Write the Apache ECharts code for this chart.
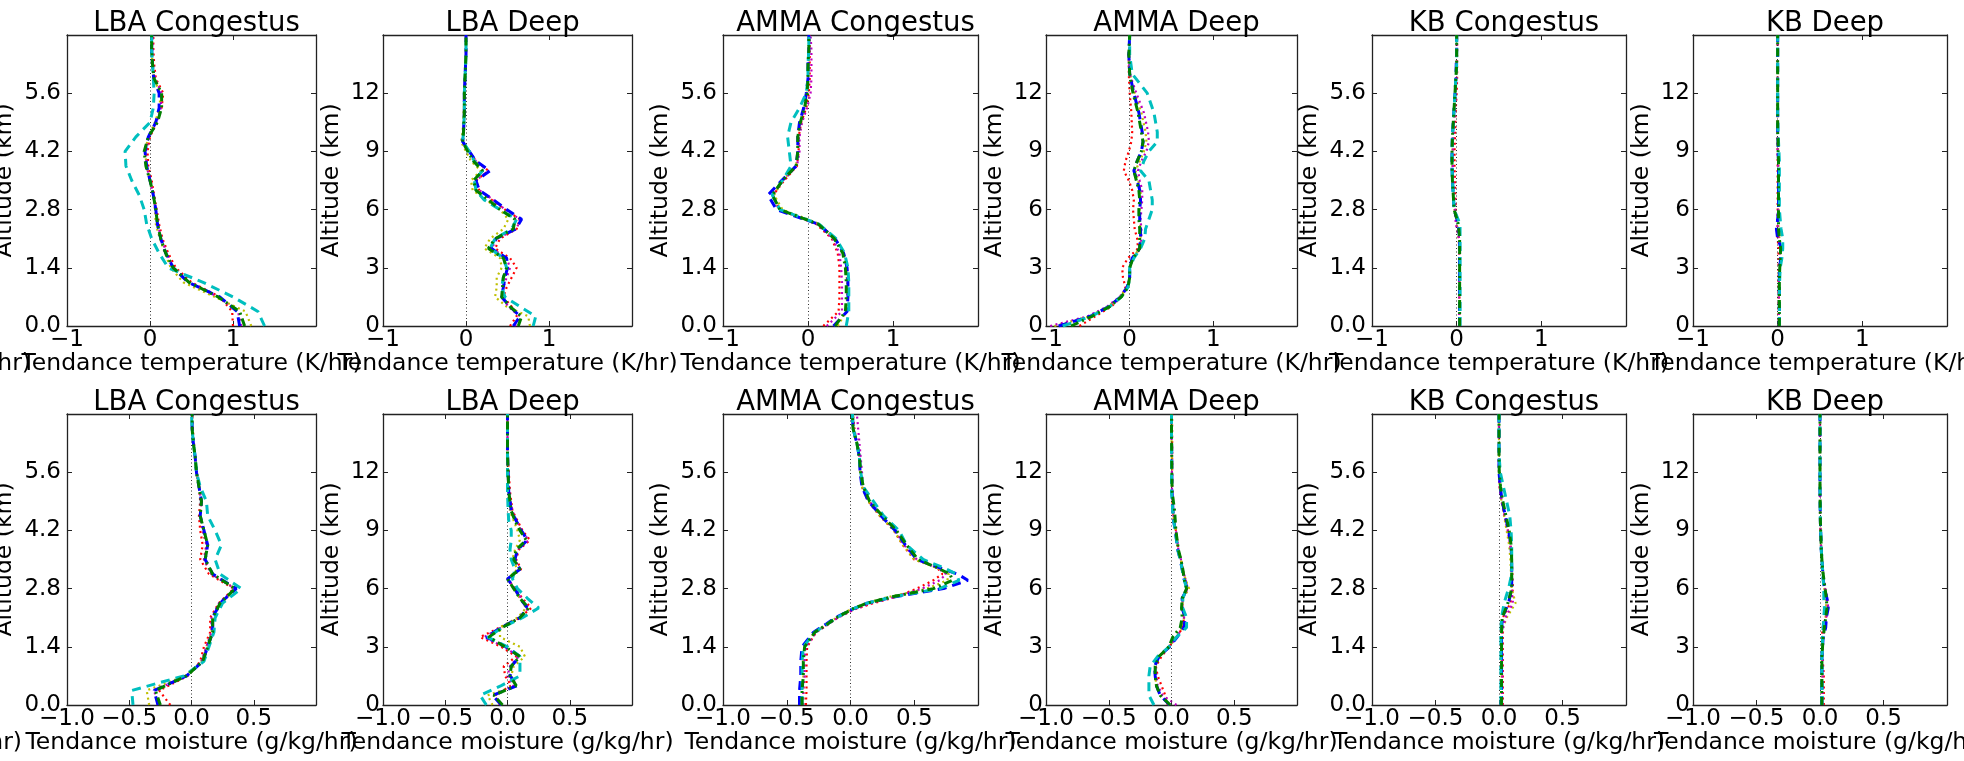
<!DOCTYPE html>
<html><head><meta charset="utf-8">
<script src="https://cdn.jsdelivr.net/npm/echarts@6/dist/echarts.min.js"></script>
<style>html,body{margin:0;padding:0;background:#fff}#c{width:1964px;height:761px}</style>
</head><body><div id="c"></div><script>
const FONT = 'DejaVu Sans';
const TITLES = ['LBA Congestus', 'LBA Deep', 'AMMA Congestus', 'AMMA Deep', 'KB Congestus', 'KB Deep'];
const X_NAME_T = 'Tendance temperature (K/hr)';
const X_NAME_Q = 'Tendance moisture (g/kg/hr)';
const Y_NAME = 'Altitude (km)';
const X_TICKS_T = [-1, 0, 1];
const X_TICKS_Q = [-1.0, -0.5, 0.0, 0.5];
const Y_TICKS_CONG = [0.0, 1.4, 2.8, 4.2, 5.6];
const Y_TICKS_DEEP = [0, 3, 6, 9, 12];
const SERIES_KEYS = ['r', 'y', 'm', 'b', 'c', 'g'];

// altitudes (km)
const ALT_CONG = [0, 0.35, 0.7, 1.05, 1.4, 1.75, 2.1, 2.45, 2.8, 3.15, 3.5, 3.85, 4.2, 4.55, 4.9, 5.25, 5.6, 5.95, 6.3, 6.65, 7.0];
const ALT_DEEP = [0, 0.5, 1, 1.5, 2, 2.5, 3, 3.5, 4, 4.5, 5, 5.5, 6, 6.5, 7, 7.5, 8, 8.5, 9, 9.5, 10, 11, 12, 13, 14, 15];
const ALT_AMMA_CONG_Q = [0, 0.35, 0.7, 1.05, 1.4, 1.75, 1.95, 2.1, 2.3, 2.45, 2.6, 2.8, 3.0, 3.15, 3.3, 3.5, 3.85, 4.2, 4.55, 4.9, 5.25, 5.6, 5.95, 6.3, 6.65, 7.0];

// series order in each panel: r, y, m, b, c, g
const T_LBA_CONG = [
  [1.0, 0.99, 0.84, 0.5, 0.31, 0.22, 0.15, 0.11, 0.08, 0.05, 0.02, -0.02, -0.03, 0.0, 0.08, 0.14, 0.16, 0.07, 0.05, 0.04, 0.04],
  [1.22, 1.15, 0.78, 0.4, 0.25, 0.18, 0.12, 0.07, 0.06, 0.04, 0.0, -0.04, -0.06, -0.02, 0.06, 0.12, 0.12, 0.05, 0.03, 0.02, 0.02],
  [1.1, 1.06, 0.82, 0.47, 0.28, 0.2, 0.14, 0.09, 0.07, 0.04, 0.0, -0.04, -0.05, -0.01, 0.08, 0.13, 0.14, 0.06, 0.03, 0.03, 0.03],
  [1.08, 1.05, 0.84, 0.46, 0.28, 0.19, 0.13, 0.09, 0.07, 0.04, 0.0, -0.04, -0.06, -0.02, 0.07, 0.11, 0.11, 0.045, 0.03, 0.02, 0.02],
  [1.38, 1.3, 1.0, 0.64, 0.22, 0.11, 0.02, -0.04, -0.07, -0.13, -0.22, -0.29, -0.3, -0.17, 0.0, 0.04, 0.05, 0.04, 0.03, 0.02, 0.02],
  [1.14, 1.08, 0.82, 0.47, 0.28, 0.19, 0.13, 0.09, 0.07, 0.04, 0.0, -0.05, -0.07, -0.02, 0.09, 0.14, 0.14, 0.05, 0.03, 0.02, 0.02]
];
const T_LBA_DEEP = [
  [0.53, 0.61, 0.55, 0.45, 0.49, 0.55, 0.61, 0.53, 0.35, 0.41, 0.61, 0.65, 0.47, 0.31, 0.16, 0.12, 0.27, 0.12, 0.04, -0.04, -0.03, -0.02, -0.02, -0.01, 0.0, 0.0],
  [0.77, 0.75, 0.49, 0.35, 0.37, 0.37, 0.43, 0.41, 0.22, 0.29, 0.45, 0.51, 0.41, 0.24, 0.08, 0.06, 0.18, 0.06, 0.0, -0.06, -0.04, -0.03, -0.02, -0.01, 0.0, 0.0],
  [0.59, 0.65, 0.51, 0.43, 0.45, 0.49, 0.53, 0.49, 0.31, 0.37, 0.61, 0.65, 0.47, 0.33, 0.16, 0.12, 0.27, 0.12, 0.04, -0.04, -0.03, -0.02, -0.02, -0.01, 0.0, 0.0],
  [0.57, 0.65, 0.53, 0.43, 0.45, 0.47, 0.5, 0.49, 0.3, 0.36, 0.6, 0.67, 0.49, 0.33, 0.16, 0.12, 0.29, 0.12, 0.04, -0.04, -0.03, -0.02, -0.02, -0.01, 0.0, 0.0],
  [0.81, 0.84, 0.65, 0.47, 0.43, 0.45, 0.49, 0.45, 0.29, 0.35, 0.55, 0.61, 0.41, 0.22, 0.12, 0.1, 0.2, 0.1, 0.04, -0.04, -0.03, -0.02, -0.02, -0.01, 0.0, 0.0],
  [0.63, 0.67, 0.53, 0.43, 0.44, 0.45, 0.49, 0.45, 0.27, 0.35, 0.57, 0.59, 0.41, 0.27, 0.12, 0.09, 0.2, 0.09, 0.02, -0.04, -0.03, -0.02, -0.02, -0.01, 0.0, 0.0]
];
const T_AMMA_CONG = [
  [0.18, 0.36, 0.37, 0.37, 0.37, 0.35, 0.28, 0.1, -0.34, -0.41, -0.28, -0.13, -0.11, -0.11, -0.08, -0.02, 0.01, 0.02, 0.02, 0.02, 0.02],
  [0.35, 0.45, 0.46, 0.46, 0.45, 0.42, 0.32, 0.14, -0.3, -0.4, -0.3, -0.14, -0.12, -0.12, -0.09, -0.04, -0.01, 0.0, 0.01, 0.01, 0.01],
  [0.22, 0.4, 0.4, 0.4, 0.39, 0.37, 0.29, 0.11, -0.34, -0.42, -0.29, -0.13, -0.1, -0.1, -0.07, -0.01, 0.03, 0.04, 0.04, 0.04, 0.03],
  [0.3, 0.46, 0.47, 0.47, 0.46, 0.42, 0.32, 0.12, -0.37, -0.47, -0.31, -0.14, -0.12, -0.12, -0.1, -0.05, -0.02, 0.0, 0.0, 0.01, 0.01],
  [0.45, 0.48, 0.48, 0.48, 0.47, 0.43, 0.33, 0.13, -0.33, -0.42, -0.3, -0.2, -0.22, -0.24, -0.2, -0.1, -0.02, 0.0, 0.0, 0.01, 0.01],
  [0.32, 0.44, 0.45, 0.45, 0.44, 0.41, 0.31, 0.12, -0.33, -0.42, -0.3, -0.14, -0.12, -0.12, -0.09, -0.04, -0.01, 0.0, 0.0, 0.01, 0.01]
];
const T_AMMA_DEEP = [
  [-0.6, -0.41, -0.22, -0.1, -0.05, -0.08, -0.09, -0.02, 0.1, 0.09, 0.06, 0.05, 0.04, 0.05, 0.03, -0.01, -0.07, -0.05, -0.01, 0.02, 0.03, 0.02, 0.0, -0.01, -0.01, 0.0],
  [-0.9, -0.48, -0.26, -0.11, -0.03, 0.0, 0.0, 0.03, 0.12, 0.13, 0.13, 0.12, 0.12, 0.13, 0.13, 0.1, 0.07, 0.12, 0.17, 0.2, 0.19, 0.14, 0.06, 0.0, -0.01, 0.0],
  [-0.95, -0.5, -0.27, -0.12, -0.03, 0.0, 0.0, 0.04, 0.13, 0.14, 0.14, 0.13, 0.14, 0.15, 0.15, 0.12, 0.1, 0.14, 0.2, 0.23, 0.22, 0.17, 0.08, 0.0, -0.01, 0.0],
  [-0.85, -0.47, -0.25, -0.11, -0.03, 0.0, 0.0, 0.03, 0.12, 0.13, 0.13, 0.12, 0.12, 0.13, 0.12, 0.09, 0.05, 0.09, 0.14, 0.16, 0.15, 0.11, 0.05, 0.0, -0.01, 0.0],
  [-0.8, -0.46, -0.24, -0.1, -0.02, 0.0, 0.0, 0.05, 0.13, 0.18, 0.19, 0.23, 0.27, 0.27, 0.25, 0.23, 0.13, 0.17, 0.23, 0.33, 0.33, 0.29, 0.21, 0.03, 0.0, 0.0],
  [-0.7, -0.45, -0.24, -0.1, -0.02, 0.0, 0.0, 0.04, 0.12, 0.12, 0.12, 0.11, 0.11, 0.12, 0.11, 0.08, 0.05, 0.09, 0.14, 0.16, 0.14, 0.1, 0.04, 0.0, -0.01, 0.0]
];
const T_KB_CONG = [
  [0.03, 0.03, 0.03, 0.03, 0.03, 0.03, 0.025, 0.0, -0.01, -0.015, -0.02, -0.025, -0.025, -0.02, -0.015, -0.01, 0.0, 0.005, 0.005, 0.005, 0.005],
  [0.03, 0.03, 0.03, 0.03, 0.03, 0.03, 0.03, 0.0, -0.025, -0.035, -0.045, -0.05, -0.05, -0.045, -0.035, -0.025, -0.015, -0.005, 0.0, 0.0, 0.0],
  [0.03, 0.03, 0.03, 0.03, 0.03, 0.03, 0.03, -0.01, -0.02, -0.03, -0.04, -0.045, -0.045, -0.04, -0.03, -0.02, -0.01, -0.005, 0.0, 0.0, 0.0],
  [0.035, 0.035, 0.035, 0.035, 0.035, 0.035, 0.035, 0.02, -0.03, -0.04, -0.05, -0.055, -0.055, -0.05, -0.04, -0.03, -0.02, -0.01, -0.005, 0.0, 0.0],
  [0.04, 0.04, 0.04, 0.04, 0.04, 0.04, 0.04, 0.04, -0.03, -0.04, -0.05, -0.055, -0.055, -0.05, -0.04, -0.03, -0.02, -0.01, 0.0, 0.0, 0.0],
  [0.035, 0.035, 0.035, 0.035, 0.035, 0.035, 0.035, 0.02, -0.03, -0.04, -0.05, -0.055, -0.055, -0.05, -0.04, -0.03, -0.02, -0.01, 0.0, 0.0, 0.0]
];
const T_KB_DEEP = [
  [0.01, 0.01, 0.01, 0.01, 0.01, 0.01, 0.01, 0.01, 0.01, 0.0, 0.0, 0.0, 0.0, 0.0, 0.0, 0.0, 0.0, 0.0, 0.0, 0.0, 0.0, 0.0, 0.0, 0.0, 0.0, 0.0],
  [0.015, 0.015, 0.015, 0.015, 0.015, 0.015, 0.02, 0.03, 0.035, 0.02, 0.01, 0.01, 0.01, 0.01, 0.01, 0.01, 0.01, 0.01, 0.005, 0.005, 0.0, 0.0, 0.0, 0.0, 0.0, 0.0],
  [0.015, 0.015, 0.015, 0.015, 0.015, 0.015, 0.02, 0.025, 0.03, 0.01, 0.0, 0.005, 0.005, 0.005, 0.005, 0.005, 0.005, 0.005, 0.0, 0.0, 0.0, 0.0, 0.0, 0.0, 0.0, 0.0],
  [0.02, 0.02, 0.02, 0.02, 0.02, 0.02, 0.025, 0.035, 0.045, 0.0, -0.015, 0.0, 0.01, 0.01, 0.01, 0.01, 0.01, 0.01, 0.005, 0.005, 0.0, 0.0, 0.0, 0.0, 0.0, 0.0],
  [0.02, 0.02, 0.02, 0.02, 0.02, 0.025, 0.03, 0.05, 0.06, 0.06, 0.04, 0.03, 0.02, 0.02, 0.02, 0.02, 0.02, 0.02, 0.015, 0.01, 0.005, 0.0, 0.0, 0.0, 0.0, 0.0],
  [0.02, 0.02, 0.02, 0.02, 0.02, 0.02, 0.025, 0.03, 0.035, 0.02, 0.01, 0.01, 0.01, 0.01, 0.01, 0.01, 0.01, 0.01, 0.005, 0.005, 0.0, 0.0, 0.0, 0.0, 0.0, 0.0]
];
const Q_LBA_CONG = [
  [-0.17, -0.26, -0.03, 0.07, 0.1, 0.15, 0.15, 0.22, 0.34, 0.14, 0.07, 0.09, 0.07, 0.06, 0.07, 0.06, 0.04, 0.03, 0.02, 0.01, 0.005],
  [-0.34, -0.36, -0.05, 0.08, 0.12, 0.16, 0.17, 0.24, 0.35, 0.16, 0.1, 0.12, 0.09, 0.07, 0.08, 0.06, 0.04, 0.03, 0.015, 0.005, 0.005],
  [-0.27, -0.3, -0.04, 0.08, 0.12, 0.16, 0.16, 0.22, 0.35, 0.16, 0.1, 0.12, 0.09, 0.07, 0.08, 0.06, 0.04, 0.03, 0.015, 0.005, 0.005],
  [-0.27, -0.3, -0.04, 0.09, 0.13, 0.17, 0.17, 0.23, 0.36, 0.17, 0.11, 0.13, 0.1, 0.07, 0.08, 0.06, 0.04, 0.03, 0.015, 0.005, 0.005],
  [-0.47, -0.48, -0.06, 0.1, 0.14, 0.18, 0.19, 0.25, 0.4, 0.23, 0.19, 0.24, 0.19, 0.13, 0.12, 0.07, 0.04, 0.03, 0.015, 0.005, 0.0],
  [-0.25, -0.29, -0.04, 0.09, 0.13, 0.17, 0.17, 0.23, 0.35, 0.17, 0.11, 0.13, 0.1, 0.07, 0.08, 0.06, 0.04, 0.03, 0.015, 0.005, 0.005]
];
const Q_LBA_DEEP = [
  [-0.06, -0.1, 0.03, -0.02, -0.03, 0.07, -0.05, -0.22, -0.06, 0.1, 0.19, 0.12, 0.06, 0.0, 0.11, 0.07, 0.09, 0.18, 0.12, 0.08, 0.04, 0.02, 0.01, 0.0, 0.0, 0.0],
  [-0.12, -0.16, 0.07, 0.03, 0.05, 0.14, 0.1, -0.06, -0.06, 0.08, 0.15, 0.1, 0.05, 0.0, 0.08, 0.04, 0.06, 0.1, 0.08, 0.05, 0.02, 0.01, 0.0, 0.0, 0.0, 0.0],
  [-0.05, -0.11, 0.05, 0.0, 0.02, 0.09, -0.03, -0.19, -0.05, 0.1, 0.17, 0.11, 0.06, 0.0, 0.1, 0.06, 0.08, 0.17, 0.11, 0.07, 0.04, 0.01, 0.005, 0.0, 0.0, 0.0],
  [-0.05, -0.12, 0.08, 0.02, 0.03, 0.1, -0.01, -0.17, -0.05, 0.1, 0.16, 0.1, 0.06, 0.0, 0.1, 0.06, 0.08, 0.16, 0.11, 0.07, 0.03, 0.01, 0.005, 0.0, 0.0, 0.0],
  [-0.17, -0.22, -0.05, 0.1, 0.1, 0.1, 0.0, -0.16, -0.04, 0.12, 0.25, 0.16, 0.08, 0.04, 0.06, 0.03, 0.02, 0.03, 0.03, 0.01, 0.005, 0.0, 0.0, 0.0, 0.0, 0.0],
  [-0.04, -0.11, 0.07, 0.02, 0.03, 0.1, -0.02, -0.15, -0.04, 0.1, 0.17, 0.1, 0.05, 0.0, 0.1, 0.05, 0.07, 0.15, 0.1, 0.06, 0.03, 0.01, 0.005, 0.0, 0.0, 0.0]
];
const Q_AMMA_CONG = [
  [-0.35, -0.345, -0.345, -0.345, -0.34, -0.27, -0.17, -0.1, 0.03, 0.18, 0.36, 0.52, 0.65, 0.72, 0.68, 0.5, 0.41, 0.34, 0.23, 0.14, 0.09, 0.08, 0.07, 0.05, 0.03, 0.02],
  [-0.37, -0.37, -0.37, -0.37, -0.36, -0.28, -0.18, -0.11, 0.0, 0.12, 0.3, 0.6, 0.76, 0.77, 0.68, 0.5, 0.41, 0.34, 0.23, 0.14, 0.09, 0.075, 0.07, 0.05, 0.02, 0.015],
  [-0.37, -0.37, -0.36, -0.36, -0.35, -0.27, -0.17, -0.1, 0.03, 0.16, 0.35, 0.56, 0.7, 0.75, 0.68, 0.52, 0.42, 0.35, 0.24, 0.15, 0.1, 0.09, 0.08, 0.07, 0.06, 0.05],
  [-0.4, -0.4, -0.39, -0.39, -0.38, -0.29, -0.19, -0.12, 0.01, 0.13, 0.34, 0.73, 0.92, 0.84, 0.7, 0.52, 0.43, 0.35, 0.24, 0.14, 0.09, 0.075, 0.07, 0.05, 0.02, 0.015],
  [-0.38, -0.38, -0.38, -0.38, -0.37, -0.28, -0.18, -0.11, 0.01, 0.13, 0.33, 0.7, 0.85, 0.83, 0.73, 0.57, 0.44, 0.38, 0.26, 0.18, 0.1, 0.08, 0.07, 0.05, 0.02, 0.015],
  [-0.38, -0.38, -0.37, -0.37, -0.36, -0.28, -0.18, -0.11, 0.01, 0.13, 0.32, 0.65, 0.8, 0.78, 0.68, 0.53, 0.44, 0.36, 0.25, 0.15, 0.1, 0.08, 0.07, 0.05, 0.02, 0.015]
];
const Q_AMMA_DEEP = [
  [-0.03, -0.05, -0.08, -0.11, -0.125, -0.08, -0.02, 0.04, 0.09, 0.1, 0.085, 0.09, 0.125, 0.11, 0.09, 0.075, 0.055, 0.045, 0.035, 0.02, 0.01, 0.005, 0.005, 0.005, 0.005, 0.005],
  [-0.02, -0.09, -0.12, -0.13, -0.13, -0.1, -0.02, 0.04, 0.09, 0.1, 0.085, 0.09, 0.14, 0.11, 0.09, 0.075, 0.055, 0.045, 0.035, 0.02, 0.012, 0.004, 0.003, 0.002, 0.0, 0.0],
  [0.04, -0.07, -0.11, -0.12, -0.13, -0.1, -0.02, 0.04, 0.09, 0.1, 0.085, 0.09, 0.13, 0.11, 0.09, 0.075, 0.055, 0.045, 0.035, 0.02, 0.012, 0.004, 0.003, 0.002, 0.0, 0.0],
  [-0.015, -0.09, -0.12, -0.13, -0.135, -0.1, -0.015, 0.045, 0.1, 0.11, 0.085, 0.085, 0.125, 0.1, 0.085, 0.07, 0.05, 0.04, 0.03, 0.017, 0.012, 0.004, 0.003, 0.002, 0.0, 0.0],
  [-0.14, -0.18, -0.18, -0.18, -0.17, -0.11, -0.02, 0.04, 0.12, 0.12, 0.09, 0.09, 0.12, 0.1, 0.085, 0.07, 0.05, 0.04, 0.03, 0.017, 0.01, 0.0, 0.0, 0.0, 0.0, 0.0],
  [-0.01, -0.09, -0.12, -0.13, -0.13, -0.1, -0.02, 0.01, 0.07, 0.085, 0.08, 0.085, 0.12, 0.1, 0.09, 0.075, 0.055, 0.045, 0.035, 0.03, 0.025, 0.005, 0.003, 0.002, 0.0, 0.0]
];
const Q_KB_CONG = [
  [0.03, 0.03, 0.03, 0.03, 0.03, 0.03, 0.03, 0.09, 0.11, 0.105, 0.1, 0.09, 0.07, 0.045, 0.02, 0.005, 0.0, 0.0, 0.0, 0.0, 0.0],
  [0.02, 0.02, 0.02, 0.02, 0.02, 0.02, 0.06, 0.13, 0.1, 0.095, 0.09, 0.08, 0.06, 0.04, 0.02, 0.005, 0.0, 0.0, 0.0, 0.0, 0.0],
  [0.025, 0.025, 0.025, 0.025, 0.025, 0.025, 0.05, 0.11, 0.1, 0.1, 0.1, 0.09, 0.07, 0.045, 0.02, 0.005, 0.0, 0.0, 0.0, 0.0, 0.0],
  [0.02, 0.02, 0.02, 0.02, 0.02, 0.02, 0.025, 0.075, 0.1, 0.1, 0.1, 0.095, 0.075, 0.05, 0.025, 0.01, 0.0, 0.0, 0.0, 0.0, 0.0],
  [0.015, 0.015, 0.015, 0.015, 0.015, 0.015, 0.02, 0.04, 0.075, 0.1, 0.1, 0.1, 0.095, 0.085, 0.06, 0.035, 0.01, 0.002, 0.0, 0.0, 0.0],
  [0.02, 0.02, 0.02, 0.02, 0.02, 0.02, 0.025, 0.07, 0.1, 0.1, 0.1, 0.095, 0.08, 0.055, 0.03, 0.012, 0.002, 0.0, 0.0, 0.0, 0.0]
];
const Q_KB_DEEP = [
  [0.03, 0.03, 0.03, 0.03, 0.025, 0.02, 0.015, 0.015, 0.02, 0.045, 0.06, 0.055, 0.04, 0.03, 0.02, 0.015, 0.01, 0.005, 0.003, 0.002, 0.0, 0.0, 0.0, 0.0, 0.0, 0.0],
  [0.015, 0.015, 0.015, 0.015, 0.015, 0.015, 0.02, 0.025, 0.04, 0.045, 0.05, 0.045, 0.035, 0.025, 0.02, 0.015, 0.01, 0.006, 0.004, 0.002, 0.001, 0.0, 0.0, 0.0, 0.0, 0.0],
  [0.02, 0.02, 0.02, 0.02, 0.02, 0.02, 0.02, 0.025, 0.035, 0.05, 0.065, 0.055, 0.04, 0.03, 0.02, 0.015, 0.01, 0.006, 0.004, 0.002, 0.001, 0.0, 0.0, 0.0, 0.0, 0.0],
  [0.015, 0.015, 0.015, 0.015, 0.015, 0.015, 0.02, 0.025, 0.045, 0.05, 0.065, 0.055, 0.035, 0.025, 0.02, 0.015, 0.01, 0.008, 0.005, 0.003, 0.002, 0.0, 0.0, 0.0, 0.0, 0.0],
  [0.015, 0.015, 0.015, 0.015, 0.015, 0.015, 0.02, 0.02, 0.025, 0.03, 0.035, 0.03, 0.03, 0.025, 0.02, 0.015, 0.01, 0.008, 0.005, 0.003, 0.002, 0.0, 0.0, 0.0, 0.0, 0.0],
  [0.015, 0.015, 0.015, 0.015, 0.015, 0.015, 0.02, 0.025, 0.035, 0.045, 0.055, 0.05, 0.04, 0.03, 0.02, 0.015, 0.01, 0.008, 0.005, 0.003, 0.002, 0.0, 0.0, 0.0, 0.0, 0.0]
];

// ---------- layout & styles ----------
const GRID_LEFT = [67, 383, 723, 1046, 1372, 1693];
const GRID_WIDTH = [249, 249, 255, 251, 254, 254];
const ROW_TOP = [35, 414];
const PLOT_H = 291;
const STYLE = {
  r: { color: '#ff0000', width: 2.2, type: [2, 3.5] },
  y: { color: '#bfbf00', width: 2.2, type: [2, 3.5] },
  m: { color: '#bf00bf', width: 2.2, type: [2, 3.5] },
  b: { color: '#0000ff', width: 3, type: [9, 6] },
  c: { color: '#00bfbf', width: 3, type: [9, 6] },
  g: { color: '#008000', width: 3, type: [8, 4, 2, 4] }
};
const PANELS = [
  { row: 0, col: 0, deep: false, alt: ALT_CONG, vals: T_LBA_CONG },
  { row: 0, col: 1, deep: true,  alt: ALT_DEEP, vals: T_LBA_DEEP },
  { row: 0, col: 2, deep: false, alt: ALT_CONG, vals: T_AMMA_CONG },
  { row: 0, col: 3, deep: true,  alt: ALT_DEEP, vals: T_AMMA_DEEP },
  { row: 0, col: 4, deep: false, alt: ALT_CONG, vals: T_KB_CONG },
  { row: 0, col: 5, deep: true,  alt: ALT_DEEP, vals: T_KB_DEEP },
  { row: 1, col: 0, deep: false, alt: ALT_CONG, vals: Q_LBA_CONG },
  { row: 1, col: 1, deep: true,  alt: ALT_DEEP, vals: Q_LBA_DEEP },
  { row: 1, col: 2, deep: false, alt: ALT_AMMA_CONG_Q, vals: Q_AMMA_CONG },
  { row: 1, col: 3, deep: true,  alt: ALT_DEEP, vals: Q_AMMA_DEEP },
  { row: 1, col: 4, deep: false, alt: ALT_CONG, vals: Q_KB_CONG },
  { row: 1, col: 5, deep: true,  alt: ALT_DEEP, vals: Q_KB_DEEP }
];

function tickFmt(ticks, dec) {
  return function (v) {
    const t = ticks.find(k => Math.abs(k - v) < 1e-6);
    if (t === undefined) return '';
    return (t < -1e-9 ? '\u2212' : '') + Math.abs(t).toFixed(dec);
  };
}
const AX_LINE = { show: true, onZero: false, lineStyle: { color: '#222', width: 1.3 } };
const AX_TICK = { show: true, inside: true, length: 5, lineStyle: { color: '#222', width: 1 } };
const NAME_TXT = { color: '#000', fontFamily: FONT, fontSize: 23.5 };
const TICK_TXT = { color: '#000', fontFamily: FONT, fontSize: 23 };

const grid = [], xAxis = [], yAxis = [], series = [], title = [];
PANELS.forEach((p, pi) => {
  const L = GRID_LEFT[p.col], W = GRID_WIDTH[p.col], T = ROW_TOP[p.row];
  grid.push({ left: L, top: T, width: W, height: PLOT_H, containLabel: false, outerBoundsMode: 'none' });
  title.push({ text: TITLES[p.col], left: L + W / 2, top: T - 30, textAlign: 'center',
    textStyle: { fontFamily: FONT, fontSize: 27.5, fontWeight: 'normal', color: '#000' } });
  const isT = p.row === 0;
  const xr = isT ? { min: -1, max: 2, interval: 1 } : { min: -1, max: 1, interval: 0.5 };
  const xf = isT ? tickFmt(X_TICKS_T, 0) : tickFmt(X_TICKS_Q, 1);
  const yr = p.deep ? { min: 0, max: 15, interval: 3 } : { min: 0, max: 7, interval: 1.4 };
  const yf = p.deep ? tickFmt(Y_TICKS_DEEP, 0) : tickFmt(Y_TICKS_CONG, 1);
  xAxis.push(Object.assign({ type: 'value', gridIndex: pi, position: 'bottom',
    name: isT ? X_NAME_T : X_NAME_Q, nameLocation: 'middle', nameGap: 26, nameTextStyle: NAME_TXT,
    nameMoveOverlap: false,
    axisLine: AX_LINE, axisTick: AX_TICK, splitLine: { show: false },
    axisLabel: Object.assign({ margin: 3, formatter: xf, showMinLabel: true, hideOverlap: false }, TICK_TXT) }, xr));
  xAxis.push(Object.assign({ type: 'value', gridIndex: pi, position: 'top',
    axisLine: AX_LINE, axisTick: AX_TICK, splitLine: { show: false }, axisLabel: { show: false } }, xr));
  yAxis.push(Object.assign({ type: 'value', gridIndex: pi, position: 'left',
    name: Y_NAME, nameLocation: 'middle', nameGap: p.deep ? 39 : 50, nameTextStyle: NAME_TXT,
    nameMoveOverlap: false,
    axisLine: AX_LINE, axisTick: AX_TICK, splitLine: { show: false },
    axisLabel: Object.assign({ margin: p.deep ? 3 : 6, formatter: yf, showMinLabel: true, hideOverlap: false }, TICK_TXT) }, yr));
  yAxis.push(Object.assign({ type: 'value', gridIndex: pi, position: 'right',
    axisLine: AX_LINE, axisTick: AX_TICK, splitLine: { show: false }, axisLabel: { show: false } }, yr));
  SERIES_KEYS.forEach((k, si) => {
    const s = {
      type: 'line', name: k, xAxisIndex: 2 * pi, yAxisIndex: 2 * pi,
      data: p.alt.map((h, i) => [p.vals[si][i], h]),
      showSymbol: false, symbol: 'none', animation: false, silent: true, z: 2 + si,
      lineStyle: { color: STYLE[k].color, width: STYLE[k].width, type: STYLE[k].type, cap: 'butt' }
    };
    if (si === 0) {
      s.markLine = { silent: true, symbol: 'none', animation: false, label: { show: false },
        lineStyle: { color: '#333', width: 1, type: [1, 2.5] }, data: [{ xAxis: 0 }] };
    }
    series.push(s);
  });
});

const chart = echarts.init(document.getElementById('c'), null, { renderer: 'canvas' });
chart.setOption({
  backgroundColor: '#fff', animation: false, textStyle: { fontFamily: FONT },
  title, grid, xAxis, yAxis, series,
  graphic: [
    { type: 'text', x: 31, y: 352, style: { text: 'hr)', align: 'right', verticalAlign: 'top', font: '23.5px "DejaVu Sans"', fill: '#000' } },
    { type: 'text', x: 22, y: 731, style: { text: 'hr)', align: 'right', verticalAlign: 'top', font: '23.5px "DejaVu Sans"', fill: '#000' } }
  ]
});
</script></body></html>
